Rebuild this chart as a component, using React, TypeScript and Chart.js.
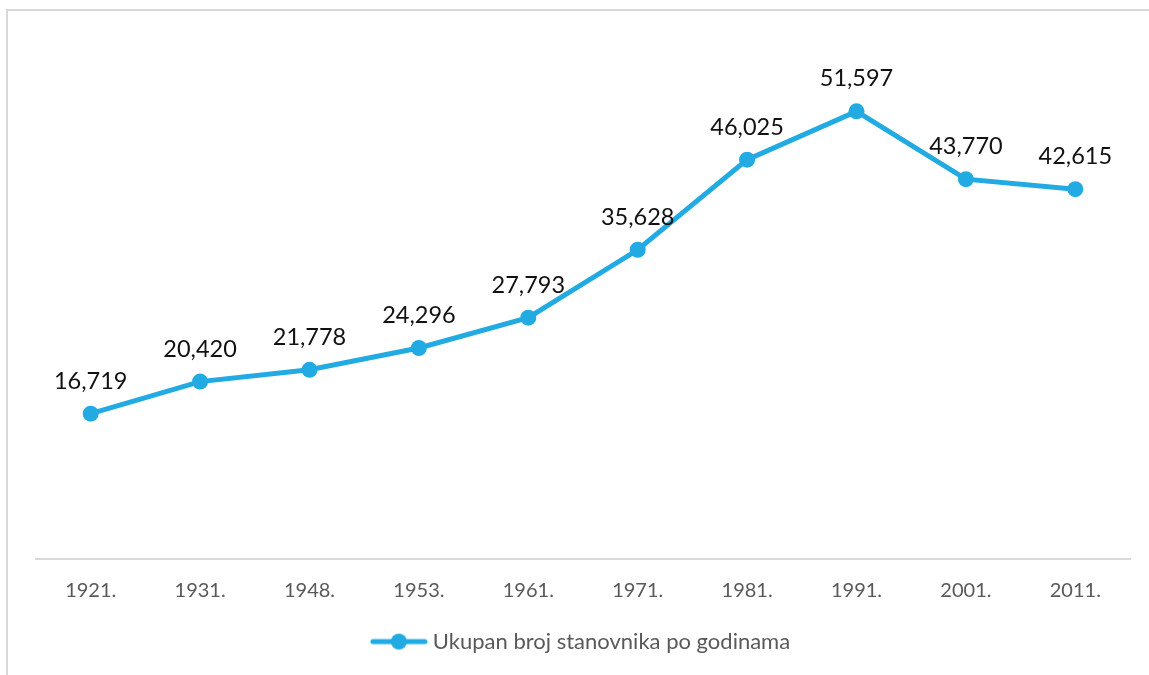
import React, { useEffect, useRef } from "react";
import { Chart, registerables } from "chart.js";

Chart.register(...registerables);

const years = ["1921.", "1931.", "1948.", "1953.", "1961.", "1971.", "1981.", "1991.", "2001.", "2011."];
const population = [16719, 20420, 21778, 24296, 27793, 35628, 46025, 51597, 43770, 42615];
const seriesName = "Ukupan broj stanovnika po godinama";
const yMin = 0;
const yMax = 60000;

const LINE_COLOR = "#22abe2";
const FONT = "Lato, 'Open Sans', sans-serif";

function makeLegendIcon(): HTMLCanvasElement {
  const c = document.createElement("canvas");
  c.width = 58;
  c.height = 18;
  const ctx = c.getContext("2d")!;
  ctx.strokeStyle = LINE_COLOR;
  ctx.lineWidth = 5;
  ctx.lineCap = "round";
  ctx.beginPath();
  ctx.moveTo(3, 9);
  ctx.lineTo(55, 9);
  ctx.stroke();
  ctx.fillStyle = LINE_COLOR;
  ctx.beginPath();
  ctx.arc(29, 9, 8, 0, Math.PI * 2);
  ctx.fill();
  return c;
}

const dataLabelPlugin = {
  id: "dataLabels",
  afterDatasetsDraw(chart: any) {
    const ctx = chart.ctx;
    const meta = chart.getDatasetMeta(0);
    const ds = chart.data.datasets[0];
    ctx.save();
    ctx.font = `23.5px ${FONT}`;
    ctx.fillStyle = "#111111";
    ctx.textAlign = "center";
    ctx.textBaseline = "alphabetic";
    meta.data.forEach((pt: any, i: number) => {
      const v = ds.data[i] as number;
      ctx.fillText(v.toLocaleString("en-US"), pt.x, pt.y - 25);
    });
    ctx.restore();
  },
};

export default function App() {
  const ref = useRef<HTMLCanvasElement>(null);
  useEffect(() => {
    document.body.style.margin = "0";
    document.body.style.overflow = "hidden";
    const icon = makeLegendIcon();
    const chart = new Chart(ref.current!, {
      type: "line",
      data: {
        labels: years,
        datasets: [
          {
            label: seriesName,
            data: population,
            borderColor: LINE_COLOR,
            backgroundColor: LINE_COLOR,
            borderWidth: 5,
            pointStyle: "circle",
            pointRadius: 8,
            pointHoverRadius: 8,
            pointBackgroundColor: LINE_COLOR,
            pointBorderColor: LINE_COLOR,
            pointBorderWidth: 0,
            tension: 0,
          } as any,
        ],
      },
      options: {
        animation: false,
        responsive: false,
        maintainAspectRatio: false,
        layout: { padding: { left: 36, right: 19, top: 38.5, bottom: 12.4 } },
        scales: {
          x: {
            offset: true,
            grid: { display: false, drawTicks: false },
            border: { display: true, color: "#d9d9d9", width: 2 },
            ticks: { color: "#595959", font: { family: FONT, size: 20 }, padding: 20 },
            afterFit: (s: any) => {
              s.height = 68;
            },
          },
          y: {
            display: false,
            min: yMin,
            max: yMax,
          },
        },
        plugins: {
          legend: {
            display: true,
            position: "bottom",
            labels: {
              usePointStyle: true,
              pointStyleWidth: 46,
              color: "#595959",
              font: { family: FONT, size: 22 },
              padding: 4,
              generateLabels: () => [
                {
                  text: seriesName,
                  pointStyle: icon,
                  fillStyle: LINE_COLOR,
                  strokeStyle: LINE_COLOR,
                  lineWidth: 0,
                  hidden: false,
                  datasetIndex: 0,
                  fontColor: "#595959",
                } as any,
              ],
            },
          },
          tooltip: { enabled: false },
        },
      },
      plugins: [dataLabelPlugin],
    });
    return () => chart.destroy();
  }, []);
  return (
    <div style={{ position: "fixed", left: 0, top: 0, width: 1149, height: 675, overflow: "hidden", background: "#fff" }}>
      <div
        style={{
          position: "absolute",
          left: 6,
          top: 9,
          width: 1200,
          height: 700,
          borderLeft: "2px solid #d9d9d9",
          borderTop: "2px solid #d9d9d9",
        }}
      />
      <canvas ref={ref} width={1149} height={675} style={{ position: "absolute", left: 0, top: 0, width: 1149, height: 675 }} />
    </div>
  );
}
